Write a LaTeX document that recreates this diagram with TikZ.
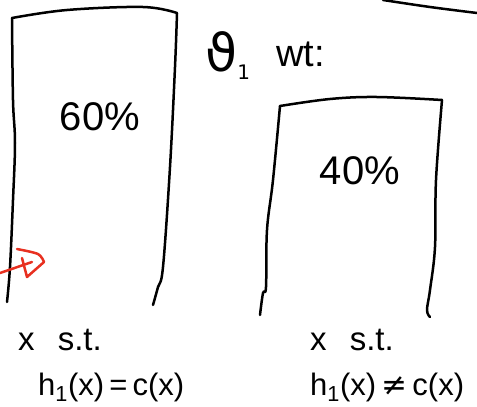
\documentclass[tikz,border=0pt]{standalone}
\usepackage{fontspec}
\setmainfont{Liberation Sans}
\newfontfamily\dvfont{DejaVu Sans}
\begin{document}
\begin{tikzpicture}[x=1pt,y=-1pt,
  ink/.style={line width=2.5pt,line cap=round,line join=round},
  redink/.style={line width=2.5pt,line cap=round,line join=round,draw={rgb,255:red,232;green,48;blue,32}},
  big/.style={font=\fontsize{40}{44}\selectfont,inner sep=0pt},
  mid/.style={font=\fontsize{31}{34}\selectfont,inner sep=0pt},
  stf/.style={font=\fontsize{33}{36}\selectfont,inner sep=0pt}]
\useasboundingbox (0,0) rectangle (477,407);
% left box
\draw[ink] plot[smooth,tension=0.6] coordinates {(7,302) (10,267) (13,200) (15,143) (13,100) (12,18)};
\draw[ink] plot[smooth,tension=0.6] coordinates {(12,18) (67,10) (143,7) (177,13)};
\draw[ink] plot[smooth,tension=0.6] coordinates {(177,13) (175,67) (170,167) (163,267) (158,287) (153,305)};
% right box
\draw[ink] plot[smooth,tension=0.6] coordinates {(260,315) (263,293) (266,287) (267,230) (273,180) (280,106)};
\draw[ink] plot[smooth,tension=0.6] coordinates {(280,106) (330,99) (377,97) (442,100)};
\draw[ink] plot[smooth,tension=0.6] coordinates {(442,100) (436,180) (435,247) (430,290) (427,310) (430,317)};
% top right curve
\draw[ink] plot[smooth,tension=0.6] coordinates {(383,0) (430,7) (477,13)};
% red marker
\draw[redink] (0,273) -- (32,262);
\draw[redink] plot[smooth,tension=0.5] coordinates {(17,249) (38,254) (44,262)} -- (27,277) -- (22,258);
% texts
\node[big] (p60) at (100,117) {60\%};
\node[big] (p40) at (360,171) {40\%};
\node[inner sep=0pt,anchor=base west,font=\fontsize{52}{56}\selectfont\dvfont] (theta) at (205,71) {ϑ\raisebox{-0.3ex}{\fontsize{20}{22}\selectfont 1}};
\node[inner sep=0pt,anchor=base west,font=\fontsize{38}{42}\selectfont] (wt) at (276,66) {wt:};
\node[stf,anchor=base west] (st1) at (18,350) {x\hspace{0.7em}s.t.};
\node[stf,anchor=base west] (st2) at (310,350) {x\hspace{0.7em}s.t.};
\node[mid,anchor=base west] (eq1) at (38,395) {h\textsubscript{1}(x)\,=\,c(x)};
\node[mid,anchor=base west] (eq2) at (310,395) {h\textsubscript{1}(x)\,{\dvfont ≠}\,c(x)};
\end{tikzpicture}
\end{document}
